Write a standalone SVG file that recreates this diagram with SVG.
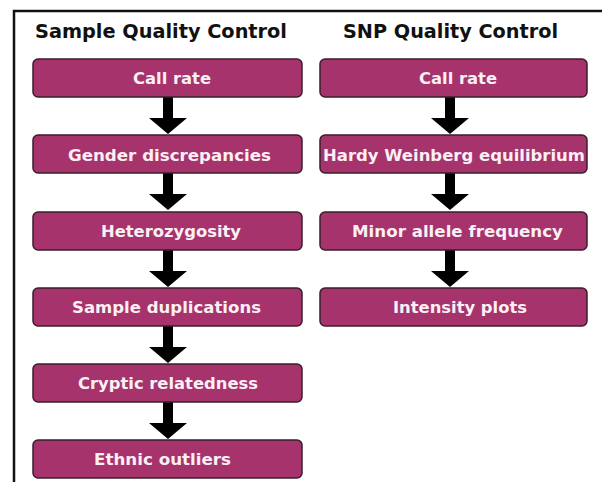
<svg xmlns="http://www.w3.org/2000/svg" width="602" height="482" viewBox="0 0 602 482">
  <defs>
    <style>
      .frame { fill: none; stroke: #111; stroke-width: 2.5; }
      .box { fill: #a6336b; stroke: #3a1f2c; stroke-width: 1.5; }
      .label { font-family: "DejaVu Sans", Verdana, sans-serif; font-weight: bold; font-size: 15.5px; fill: #faf0f4; text-anchor: middle; }
      .title { font-family: "DejaVu Sans", Verdana, sans-serif; font-weight: bold; font-size: 19px; fill: #111; text-anchor: middle; }
      .arrow { fill: #000; }
    </style>
    <!-- down arrow, origin at the tip of the shaft's top centre -->
    <path id="down" class="arrow" d="M -5 0 H 5 V 21 H 19 L 0 37 L -19 21 H -5 Z"/>
  </defs>

  <rect width="602" height="482" fill="#fff"/>

  <!-- open frame: left and top edges -->
  <path class="frame" d="M 14 482 V 11 H 602"/>

  <!-- column headings -->
  <text class="title" x="161" y="38" textLength="252" lengthAdjust="spacingAndGlyphs">Sample Quality Control</text>
  <text class="title" x="450.5" y="38" textLength="215" lengthAdjust="spacingAndGlyphs">SNP Quality Control</text>

  <!-- connectors -->
  <g id="connectors">
    <use href="#down" x="168" y="97"/>
    <use href="#down" x="168" y="173"/>
    <use href="#down" x="168" y="250"/>
    <use href="#down" x="168" y="326"/>
    <use href="#down" x="168" y="402"/>
    <use href="#down" x="450" y="97"/>
    <use href="#down" x="450" y="173"/>
    <use href="#down" x="450" y="250"/>
  </g>

  <!-- sample QC steps -->
  <g id="s-callrate">
    <rect class="box" x="33" y="59" width="269" height="38" rx="5"/>
    <text class="label" x="172" y="84" textLength="78" lengthAdjust="spacingAndGlyphs">Call rate</text>
  </g>
  <g id="s-gender">
    <rect class="box" x="33" y="135" width="269" height="38" rx="5"/>
    <text class="label" x="169.5" y="161" textLength="203" lengthAdjust="spacingAndGlyphs">Gender discrepancies</text>
  </g>
  <g id="s-het">
    <rect class="box" x="33" y="212" width="269" height="38" rx="5"/>
    <text class="label" x="171" y="237" textLength="140" lengthAdjust="spacingAndGlyphs">Heterozygosity</text>
  </g>
  <g id="s-dup">
    <rect class="box" x="33" y="288" width="269" height="38" rx="5"/>
    <text class="label" x="166.5" y="313" textLength="189" lengthAdjust="spacingAndGlyphs">Sample duplications</text>
  </g>
  <g id="s-cryptic">
    <rect class="box" x="33" y="364" width="269" height="38" rx="5"/>
    <text class="label" x="168" y="389" textLength="180" lengthAdjust="spacingAndGlyphs">Cryptic relatedness</text>
  </g>
  <g id="s-ethnic">
    <rect class="box" x="33" y="440" width="269" height="38" rx="5"/>
    <text class="label" x="162.5" y="465" textLength="137" lengthAdjust="spacingAndGlyphs">Ethnic outliers</text>
  </g>

  <!-- SNP QC steps -->
  <g id="n-callrate">
    <rect class="box" x="320" y="59" width="267" height="38" rx="5"/>
    <text class="label" x="458" y="84" textLength="78" lengthAdjust="spacingAndGlyphs">Call rate</text>
  </g>
  <g id="n-hwe">
    <rect class="box" x="320" y="135" width="267" height="38" rx="5"/>
    <text class="label" x="454" y="161" textLength="262" lengthAdjust="spacingAndGlyphs">Hardy Weinberg equilibrium</text>
  </g>
  <g id="n-maf">
    <rect class="box" x="320" y="212" width="267" height="38" rx="5"/>
    <text class="label" x="457.5" y="237" textLength="211" lengthAdjust="spacingAndGlyphs">Minor allele frequency</text>
  </g>
  <g id="n-intensity">
    <rect class="box" x="320" y="288" width="267" height="38" rx="5"/>
    <text class="label" x="460" y="313" textLength="134" lengthAdjust="spacingAndGlyphs">Intensity plots</text>
  </g>
</svg>
